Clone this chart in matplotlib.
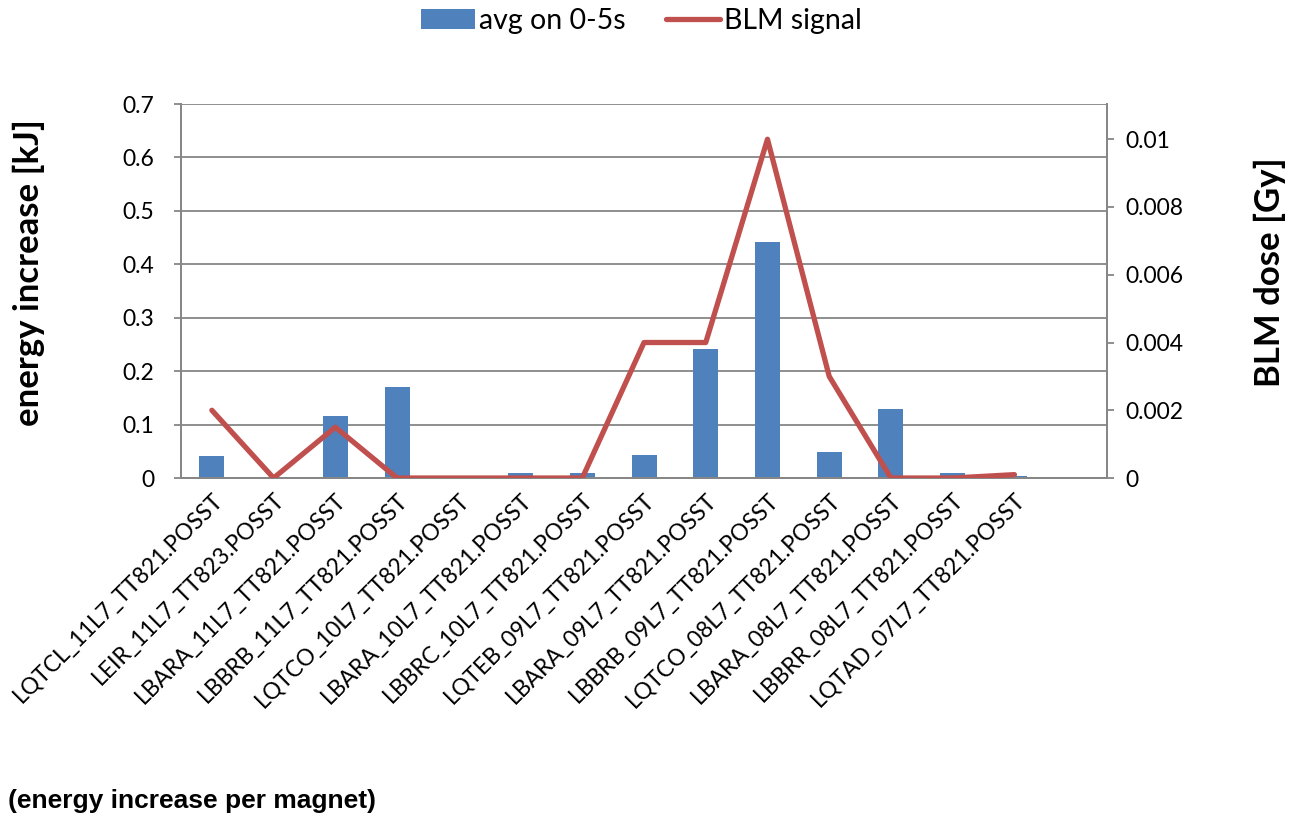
import matplotlib.pyplot as plt
import numpy as np

# Data -----------------------------------------------------------
magnets = [
    "LQTCL_11L7_TT821.POSST", "LEIR_11L7_TT823.POSST", "LBARA_11L7_TT821.POSST",
    "LBBRB_11L7_TT821.POSST", "LQTCO_10L7_TT821.POSST", "LBARA_10L7_TT821.POSST",
    "LBBRC_10L7_TT821.POSST", "LQTEB_09L7_TT821.POSST", "LBARA_09L7_TT821.POSST",
    "LBBRB_09L7_TT821.POSST", "LQTCO_08L7_TT821.POSST", "LBARA_08L7_TT821.POSST",
    "LBBRR_08L7_TT821.POSST", "LQTAD_07L7_TT821.POSST", "",
]
energy_kj = [0.042, 0.0, 0.116, 0.170, 0.0, 0.009, 0.009, 0.043, 0.241,
             0.441, 0.049, 0.130, 0.010, 0.003, np.nan]
blm_gy = [0.002, 0.0, 0.0015, 0.0, 0.0, 0.0, 0.0, 0.004, 0.004,
          0.010, 0.003, 0.0, 0.0, 0.0001, np.nan]

left_ticks = [0, 0.1, 0.2, 0.3, 0.4, 0.5, 0.6, 0.7]
left_labels = ["0", "0.1", "0.2", "0.3", "0.4", "0.5", "0.6", "0.7"]
right_ticks = [0, 0.002, 0.004, 0.006, 0.008, 0.01]
right_labels = ["0", "0.002", "0.004", "0.006", "0.008", "0.01"]

# Plot -----------------------------------------------------------
plt.rcParams['font.family'] = ['Lato', 'DejaVu Sans']

fig = plt.figure(figsize=(12.91, 8.17), dpi=100)
ax = fig.add_axes([0.1402, 0.4149, 0.7173, 0.4578])
ax2 = ax.twinx()

x = np.arange(len(magnets))
bars = ax.bar(x, energy_kj, width=0.405, color='#4f81bd', zorder=2,
              label='avg on 0-5s')
line, = ax2.plot(x, blm_gy, color='#c0504d', linewidth=3.8,
                 solid_capstyle='round', solid_joinstyle='round',
                 label='BLM signal', zorder=3)

ax.set_xlim(-0.5, len(magnets) - 0.5)
ax.set_ylim(0, 0.7)
ax2.set_ylim(0, 0.01104)

ax.set_yticks(left_ticks)
ax.set_yticklabels(left_labels)
ax2.set_yticks(right_ticks)
ax2.set_yticklabels(right_labels)

ax.yaxis.grid(True, color='#868686', linewidth=1.3, zorder=0)
ax.set_axisbelow(True)

ax.set_xticks(x)
ax.set_xticklabels(magnets, rotation=45, ha='right', rotation_mode='anchor',
                   fontsize=16.5)

for a in (ax, ax2):
    a.spines['top'].set_visible(False)
    for side in ('left', 'right', 'bottom'):
        a.spines[side].set_color('#868686')
        a.spines[side].set_linewidth(1.3)
    a.tick_params(axis='y', labelsize=16.5, length=5, color='#868686', width=1.3)
ax.tick_params(axis='x', length=0, pad=8)
ax.tick_params(axis='y', pad=14)
ax2.tick_params(axis='y', pad=8)

ax.set_ylabel('energy increase [kJ]', fontsize=25, fontweight='bold')
ax.yaxis.set_label_coords(-0.147, 0.55)
ax2.set_ylabel('BLM dose [Gy]', fontsize=25, fontweight='bold')
ax2.yaxis.set_label_coords(1.158, 0.55)

fig.legend(handles=[bars, line], loc='upper center', bbox_to_anchor=(0.497, 1.022),
           ncol=2, frameon=False, fontsize=20.5, handlelength=1.9,
           handletextpad=0.15, columnspacing=1.4)

fig.text(0.006, 0.005, '(energy increase per magnet)', fontsize=19,
         fontweight='bold', family='Liberation Sans', ha='left', va='bottom')

fig.savefig('out.png', dpi=100)
